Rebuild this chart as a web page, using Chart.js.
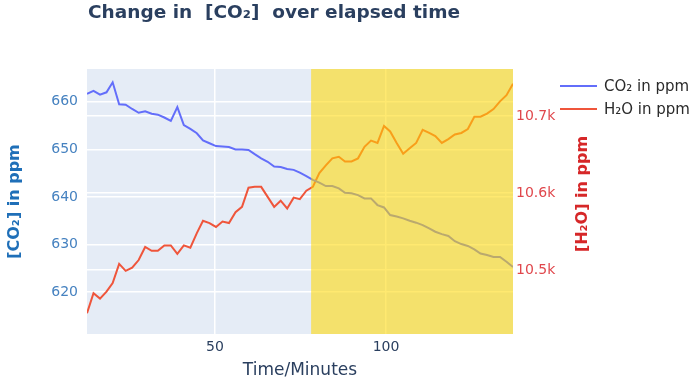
<!DOCTYPE html>
<html>
<head>
<meta charset="utf-8">
<script src="https://cdn.jsdelivr.net/npm/chart.js@4"></script>
<style>
  html, body { margin: 0; padding: 0; background: #fff; }
  canvas { display: block; }
</style>
</head>
<body>
<canvas id="chart" width="692" height="383"></canvas>
<script>
const minutes = [12.6, 14.5, 16.4, 18.3, 20.1, 22.0, 23.9, 25.8, 27.7, 29.6,
    31.5, 33.3, 35.2, 37.1, 39.0, 40.9, 42.8, 44.7, 46.5, 48.4,
    50.3, 52.2, 54.1, 56.0, 57.9, 59.8, 61.6, 63.5, 65.4, 67.3,
    69.2, 71.1, 73.0, 74.8, 76.7, 78.6, 80.5, 82.4, 84.3, 86.2,
    88.0, 89.9, 91.8, 93.7, 95.6, 97.5, 99.4, 101.2, 103.1, 105.0,
    106.9, 108.8, 110.7, 112.6, 114.4, 116.3, 118.2, 120.1, 122.0, 123.9,
    125.8, 127.6, 129.5, 131.4, 133.3, 135.2, 137.1];

const co2Ppm = [661.7, 662.3, 661.5, 662.0, 664.1, 659.5, 659.4, 658.5, 657.7, 658.0,
    657.5, 657.3, 656.7, 656.0, 658.9, 655.1, 654.3, 653.4, 651.9, 651.3,
    650.7, 650.6, 650.5, 650.0, 650.0, 649.9, 649.0, 648.1, 647.4, 646.4,
    646.3, 645.9, 645.7, 645.1, 644.4, 643.6, 643.0, 642.3, 642.3, 641.8,
    640.9, 640.8, 640.4, 639.7, 639.7, 638.3, 637.8, 636.2, 635.9, 635.5,
    635.0, 634.6, 634.1, 633.4, 632.7, 632.2, 631.8, 630.7, 630.1, 629.7,
    629.0, 628.1, 627.8, 627.4, 627.4, 626.4, 625.3];

const h2oPpm = [10444, 10470, 10463, 10472, 10483, 10508, 10499, 10503, 10513, 10530,
    10525, 10525, 10532, 10532, 10521, 10532, 10529, 10548, 10564, 10561,
    10556, 10563, 10561, 10575, 10582, 10607, 10608, 10608, 10595, 10582,
    10590, 10580, 10594, 10592, 10603, 10608, 10626, 10636, 10645, 10647,
    10641, 10641, 10645, 10660, 10668, 10665, 10687, 10680, 10665, 10651,
    10658, 10665, 10682, 10678, 10674, 10665, 10670, 10676, 10678, 10683,
    10699, 10699, 10703, 10709, 10719, 10727, 10742];

const xTicks = [50, 100];
const co2Ticks = [620, 630, 640, 650, 660];
const h2oTicks = [10500, 10600, 10700];

const seriesNames = ['CO\u2082 in ppm', 'H\u2082O in ppm'];
const chartTitle = 'Change in  [CO\u2082]  over elapsed time';
const xTitle = 'Time/Minutes';
const co2Title = '[CO\u2082] in ppm';
const h2oTitle = '[H\u2082O] in ppm';

// start of the highlighted period (minutes)
const shadeFrom = 78.1;

Chart.defaults.font.family = '"DejaVu Sans", sans-serif';

// plot background + yellow highlight on top of the lines
const plotArea = {
    id: 'plotArea',
    beforeDraw(chart) {
        const { ctx, chartArea: a } = chart;
        ctx.save();
        ctx.fillStyle = '#e5ecf6';
        ctx.fillRect(a.left, a.top, a.right - a.left, a.bottom - a.top);
        ctx.restore();
    },
    afterDatasetsDraw(chart) {
        const { ctx, chartArea: a, scales } = chart;
        const x0 = scales.x.getPixelForValue(shadeFrom);
        ctx.save();
        ctx.fillStyle = 'rgba(255, 215, 0, 0.56)';
        ctx.fillRect(x0, a.top, a.right - x0, a.bottom - a.top);
        ctx.restore();
    }
};

// title, legend and right axis title
const extraText = {
    id: 'extraText',
    afterDraw(chart) {
        const ctx = chart.ctx;
        ctx.save();
        ctx.textBaseline = 'middle';

        ctx.font = 'bold 18.5px "DejaVu Sans"';
        ctx.fillStyle = '#2a3f5f';
        ctx.textAlign = 'left';
        ctx.fillText(chartTitle, 88, 13);

        // legend
        ctx.font = '15px "DejaVu Sans"';
        chart.data.datasets.forEach((ds, i) => {
            const y = 86 + i * 23;
            ctx.strokeStyle = ds.borderColor;
            ctx.lineWidth = 2;
            ctx.beginPath();
            ctx.moveTo(560, y);
            ctx.lineTo(597, y);
            ctx.stroke();
            ctx.fillStyle = '#2a2a2a';
            ctx.fillText(ds.label, 604, y + 1);
        });

        // right axis title, reads bottom to top
        ctx.translate(583, 194);
        ctx.rotate(-Math.PI / 2);
        ctx.textAlign = 'center';
        ctx.font = 'bold 16px "DejaVu Sans"';
        ctx.fillStyle = '#d62728';
        ctx.fillText(h2oTitle, 0, 0);
        ctx.restore();
    }
};

const ctx = document.getElementById('chart').getContext('2d');
new Chart(ctx, {
    type: 'line',
    data: {
        datasets: [{
            label: seriesNames[0],
            data: minutes.map((t, i) => ({ x: t, y: co2Ppm[i] })),
            borderColor: '#636efa',
            borderWidth: 2,
            pointRadius: 0,
            yAxisID: 'y'
        }, {
            label: seriesNames[1],
            data: minutes.map((t, i) => ({ x: t, y: h2oPpm[i] })),
            borderColor: '#ef553b',
            borderWidth: 2,
            pointRadius: 0,
            yAxisID: 'y1'
        }]
    },
    options: {
        responsive: false,
        animation: false,
        devicePixelRatio: 1,
        layout: { padding: { top: 69, left: 0, right: 0, bottom: 0 } },
        plugins: {
            legend: { display: false },
            tooltip: { enabled: false }
        },
        scales: {
            x: {
                type: 'linear',
                min: 12.6,
                max: 137.1,
                afterFit: s => { s.height = 49; },
                afterBuildTicks: s => { s.ticks = xTicks.map(v => ({ value: v })); },
                grid: { color: '#ffffff', lineWidth: 1.5, drawTicks: false },
                border: { display: false },
                ticks: { color: '#2a3f5f', font: { size: 14 }, padding: 5, maxRotation: 0 },
                title: {
                    display: true, text: xTitle, color: '#2a3f5f',
                    font: { size: 17 }, padding: { top: 0, bottom: 2 }
                }
            },
            y: {
                position: 'left',
                min: 611.2,
                max: 666.9,
                afterFit: s => { s.width = 87; },
                afterBuildTicks: s => { s.ticks = co2Ticks.map(v => ({ value: v })); },
                grid: { color: '#ffffff', lineWidth: 1.5, drawTicks: false },
                border: { display: false },
                ticks: { color: '#4682c0', font: { size: 14 }, padding: 9 },
                title: {
                    display: true, text: co2Title, color: '#1f6fb8',
                    font: { size: 16, weight: 'bold' }, padding: { top: 5, bottom: 0 }
                }
            },
            y1: {
                position: 'right',
                min: 10417,
                max: 10761,
                afterFit: s => { s.width = 179; },
                afterBuildTicks: s => { s.ticks = h2oTicks.map(v => ({ value: v })); },
                grid: { color: '#ffffff', lineWidth: 1.5, drawTicks: false },
                border: { display: false },
                ticks: {
                    color: '#e0474c', font: { size: 14 }, padding: 3,
                    callback: v => (v / 1000).toFixed(1) + 'k'
                }
            }
        }
    },
    plugins: [plotArea, extraText]
});
</script>
</body>
</html>
